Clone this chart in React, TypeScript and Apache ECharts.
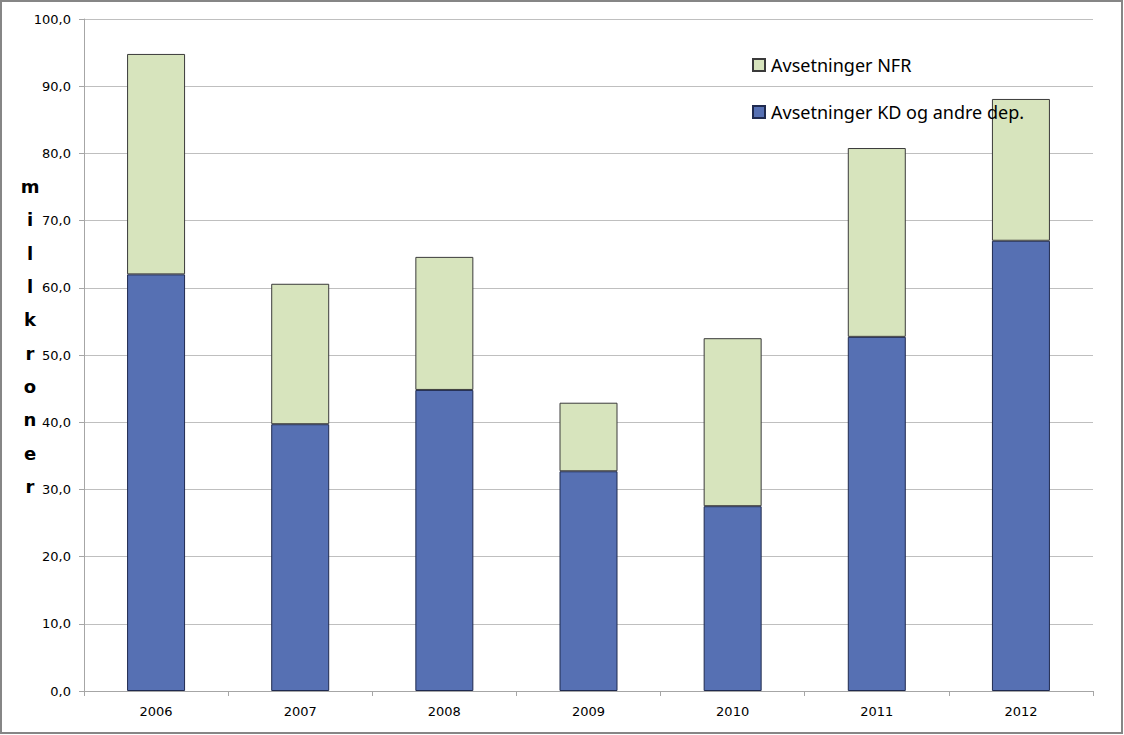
import React, { useEffect, useRef } from "react";
import * as echarts from "echarts";

const years = ["2006", "2007", "2008", "2009", "2010", "2011", "2012"];
const kdValues = [62.0, 39.7, 44.8, 32.7, 27.5, 52.7, 67.0];
const nfrValues = [32.8, 20.9, 19.8, 10.2, 25.0, 28.1, 21.1];
const kdName = "Avsetninger KD og andre dep.";
const nfrName = "Avsetninger NFR";
const yAxisLabel = "mill kroner";

export default function App() {
  const ref = useRef<HTMLDivElement>(null);
  useEffect(() => {
    document.body.style.margin = "0";
    const chart = echarts.init(ref.current!, undefined, { renderer: "svg" });
    const labelLetters = yAxisLabel.replace(" ", "").split("").join("\n");
    chart.setOption({
      animation: false,
      backgroundColor: "#ffffff",
      grid: { left: 84, right: 31, top: 19, bottom: 44, containLabel: false },
      legend: {
        orient: "vertical",
        left: 747,
        top: 51,
        icon: "rect",
        itemWidth: 12,
        itemHeight: 12,
        itemGap: 29,
        z: 10,
        data: [nfrName, kdName],
        textStyle: { fontFamily: "Noto Sans", fontSize: 18, color: "#000", padding: [0, 0, 0, 1] },
      },
      xAxis: {
        type: "category",
        data: years,
        axisLine: { lineStyle: { color: "#a6a6a6" } },
        axisTick: { show: true, length: 5, alignWithLabel: false, lineStyle: { color: "#a6a6a6" } },
        axisLabel: { fontFamily: "DejaVu Sans", fontSize: 13, color: "#000", margin: 14 },
      },
      yAxis: {
        type: "value",
        min: 0,
        max: 100,
        interval: 10,
        axisLine: { show: true, lineStyle: { color: "#a6a6a6" } },
        axisTick: { show: true, length: 5, lineStyle: { color: "#a6a6a6" } },
        splitLine: { lineStyle: { color: "#bfbfbf" } },
        axisLabel: {
          fontFamily: "DejaVu Sans",
          fontSize: 13,
          color: "#000",
          margin: 13,
          formatter: (v: number) => v.toFixed(1).replace(".", ","),
        },
      },
      series: [
        {
          name: kdName,
          type: "bar",
          stack: "total",
          barWidth: 58,
          data: kdValues,
          itemStyle: { color: "#5670b3", borderColor: "#1f2a4f", borderWidth: 1 },
        },
        {
          name: nfrName,
          type: "bar",
          stack: "total",
          barWidth: 58,
          data: nfrValues,
          itemStyle: { color: "#d7e4bd", borderColor: "#3a3a3a", borderWidth: 1 },
        },
      ],
      graphic: [
        {
          type: "rect",
          shape: { x: 1, y: 1, width: 1121, height: 732 },
          style: { fill: "none", stroke: "#868686", lineWidth: 2 },
          silent: true,
        },
        {
          type: "text",
          x: 30,
          y: 170,
          style: {
            text: labelLetters,
            fontFamily: "DejaVu Sans",
            fontWeight: "bold",
            fontSize: 18,
            lineHeight: 33.3,
            fill: "#000",
            align: "center",
          },
        },
      ],
    });
    return () => chart.dispose();
  }, []);
  return <div ref={ref} style={{ position: "fixed", left: 0, top: 0, width: 1124, height: 735 }} />;
}
